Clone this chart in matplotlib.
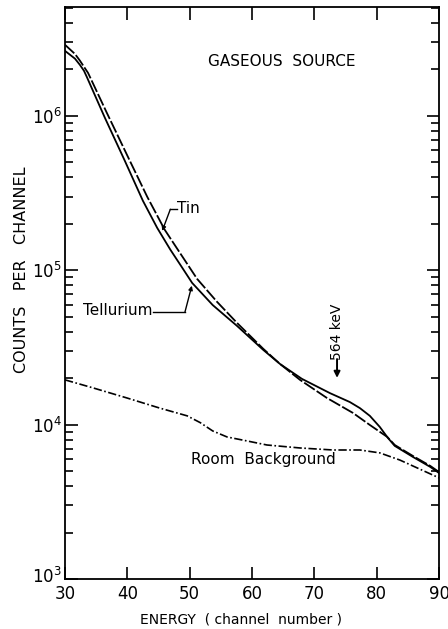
'''
Gaseous source spectra: Tin, Tellurium and room background
'''

import matplotlib
matplotlib.use('Agg')
import matplotlib.pyplot as plt
import matplotlib.transforms as mtransforms
from matplotlib.ticker import LogLocator, NullFormatter, FixedLocator


# channel number / counts per channel
tellurium_x = [30.0, 31.6, 32.4, 33.05, 33.5, 36.4, 39.6, 42.5, 44.8, 46.9,
               48.8, 50.4, 53.7, 57.6, 61.8, 64.5, 68.0, 72.5, 75.7, 77.3,
               78.9, 80.5, 81.8, 82.9, 85.8, 88.6, 90.0]
tellurium_y = [2.64e6, 2.35e6, 2.14e6, 1.96e6, 1.79e6, 9.73e5, 5.12e5,
               2.82e5, 1.88e5, 1.36e5, 1.04e5, 8.28e4, 5.95e4, 4.36e4,
               3.05e4, 2.47e4, 1.98e4, 1.60e4, 1.40e4, 1.28e4, 1.14e4,
               9.66e3, 8.20e3, 7.28e3, 6.18e3, 5.32e3, 4.86e3]

tin_x = [30.0, 31.6, 32.4, 33.05, 33.7, 36.7, 40.1, 43.2, 46.0, 48.1, 51.2,
         54.4, 57.6, 61.8, 64.5, 67.7, 72.0, 76.2, 78.9, 81.7, 82.9, 85.8,
         88.6, 90.0]
tin_y = [2.89e6, 2.52e6, 2.28e6, 2.08e6, 1.90e6, 1.05e6, 5.43e5, 2.99e5,
         1.83e5, 1.36e5, 8.79e4, 6.24e4, 4.56e4, 3.10e4, 2.47e4, 1.95e4,
         1.49e4, 1.19e4, 9.95e3, 8.32e3, 7.38e3, 6.27e3, 5.40e3, 4.93e3]

background_x = [30.0, 34.5, 39.9, 45.2, 49.6, 51.7, 53.7, 56.0, 59.2, 62.4,
                67.7, 73.0, 77.3, 80.5, 83.7, 90.0]
background_y = [1.95e4, 1.73e4, 1.49e4, 1.28e4, 1.14e4, 1.03e4, 9.10e3,
                8.32e3, 7.84e3, 7.38e3, 7.06e3, 6.85e3, 6.85e3, 6.56e3,
                5.90e3, 4.52e3]

x_ticks = [30, 40, 50, 60, 70, 80, 90]
y_ticks = [1e3, 1e4, 1e5, 1e6]
y_tick_labels = [r'$\mathregular{10^{3}}$', r'$\mathregular{10^{4}}$',
                 r'$\mathregular{10^{5}}$', r'$\mathregular{10^{6}}$']

plt.rcParams['font.family'] = ['DejaVu Sans']
plt.rcParams['mathtext.default'] = 'regular'

fig = plt.figure(figsize=(4.48, 6.29), dpi=100)
ax = fig.add_axes([0.145, 0.0795, 0.835, 0.9095])

ax.plot(tellurium_x, tellurium_y, color='black', lw=1.3)
ax.plot(tin_x, tin_y, color='black', lw=1.3, dashes=(7, 1.3))
ax.plot(background_x, background_y, color='black', lw=1.2,
        dashes=(5, 1.5, 1, 1.5))

ax.set_yscale('log')
ax.set_xlim(30, 90)
ax.set_ylim(1e3, 10 ** 6.706)

ax.xaxis.set_major_locator(FixedLocator(x_ticks))
ax.set_xticklabels([str(t) for t in x_ticks])
ax.yaxis.set_major_locator(FixedLocator(y_ticks))
ax.set_yticklabels(y_tick_labels)
ax.yaxis.set_minor_locator(LogLocator(base=10, subs=range(2, 10)))
ax.yaxis.set_minor_formatter(NullFormatter())

ax.tick_params(which='both', direction='in', top=True, right=True,
               width=1.2, labelsize=12)
ax.tick_params(which='major', length=9, pad=4)
ax.tick_params(axis='y', which='major', pad=2)
ax.tick_params(which='minor', length=5.5)
for s in ax.spines.values():
    s.set_linewidth(1.3)

# lift the 10^3 label a touch so it clears the "30"
lift = mtransforms.ScaledTranslation(0, 0.04, fig.dpi_scale_trans)
lbl = ax.get_yticklabels()[0]
lbl.set_transform(lbl.get_transform() + lift)

ax.set_xlabel('ENERGY  ( channel  number )', fontsize=10)
ax.set_ylabel('COUNTS   PER   CHANNEL', fontsize=11.5)
ax.xaxis.set_label_coords(0.47, -0.058)
ax.yaxis.set_label_coords(-0.095, 0.54)

ax.text(64.8, 10 ** 6.35, 'GASEOUS  SOURCE', fontsize=11,
        ha='center', va='center')

# Tin label with leader
ax.text(48.0, 10 ** 5.398, 'Tin', fontsize=11, ha='left', va='center')
ax.plot([46.9, 47.9], [10 ** 5.395, 10 ** 5.395], color='black', lw=1)
ax.annotate('', xy=(45.6, 10 ** 5.255), xytext=(46.9, 10 ** 5.395),
            arrowprops=dict(arrowstyle='-|>', color='black', lw=1,
                            mutation_scale=6, shrinkA=0, shrinkB=0))

# Tellurium label with leader
ax.text(44.1, 10 ** 4.737, 'Tellurium', fontsize=11, ha='right',
        va='center')
ax.plot([44.2, 49.25], [10 ** 4.730, 10 ** 4.730], color='black', lw=1)
ax.annotate('', xy=(50.35, 10 ** 4.900), xytext=(49.25, 10 ** 4.730),
            arrowprops=dict(arrowstyle='-|>', color='black', lw=1,
                            mutation_scale=6, shrinkA=0, shrinkB=0))

ax.text(61.85, 10 ** 3.771, 'Room  Background', fontsize=11,
        ha='center', va='center')

# 564 keV marker
ax.text(73.64, 10 ** 4.60, '564 keV', fontsize=10, rotation=90,
        ha='center', va='center')
ax.annotate('', xy=(73.64, 10 ** 4.303), xytext=(73.64, 10 ** 4.425),
            arrowprops=dict(arrowstyle='-|>', color='black', lw=1.4,
                            mutation_scale=9, shrinkA=0, shrinkB=0))

fig.savefig('out.png', dpi=100)
